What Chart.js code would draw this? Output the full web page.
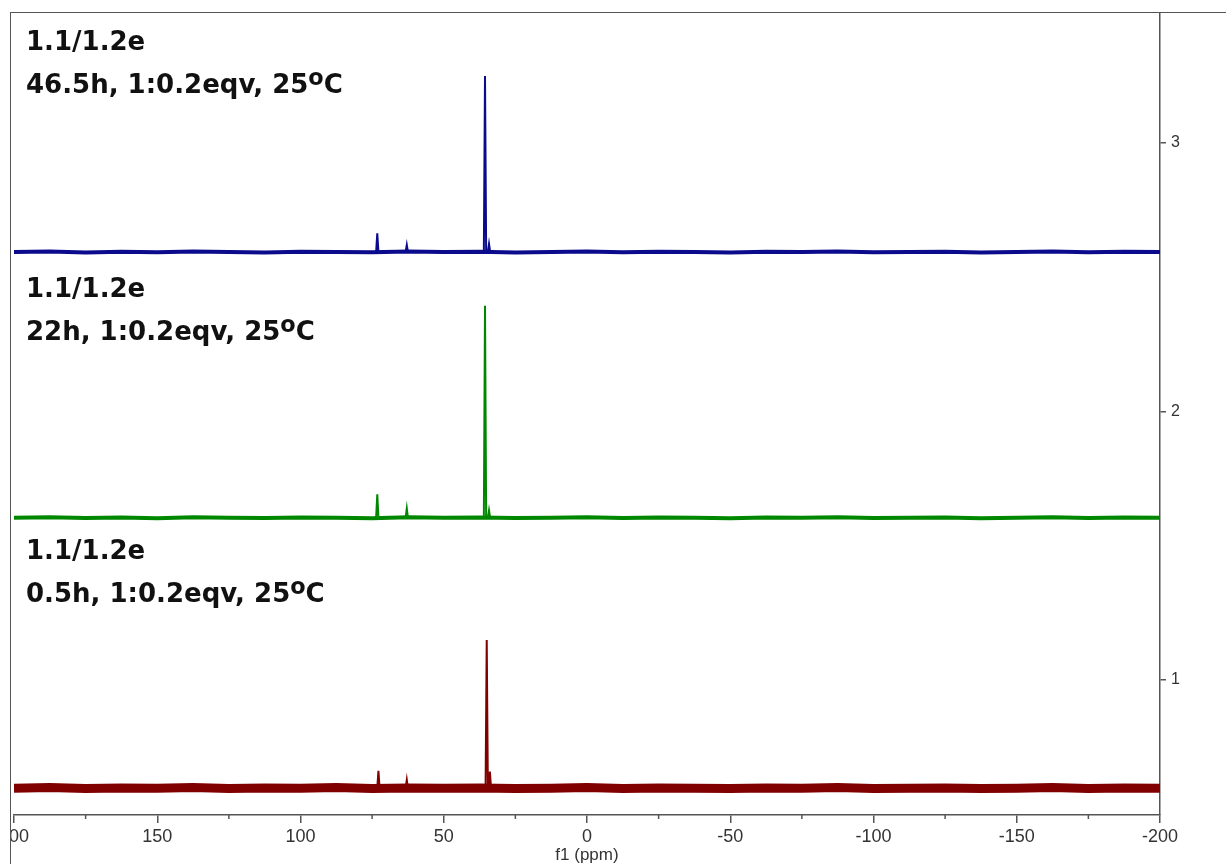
<!DOCTYPE html>
<html><head><meta charset="utf-8">
<script src="https://cdn.jsdelivr.net/npm/chart.js@4/dist/chart.umd.min.js"></script>
<style>
html,body{margin:0;padding:0;background:#fff;width:1226px;height:864px;overflow:hidden}
#frame{position:absolute;left:10px;top:12px;width:1215px;height:851px;border-left:1px solid #555;border-top:1px solid #555;overflow:hidden}
#cv{position:absolute;left:-61px;top:-16px;width:1276px;height:867px}
.lab{position:absolute;left:26px;font-family:'DejaVu Sans',sans-serif;font-weight:700;font-size:26px;line-height:43px;color:#111;white-space:nowrap}
.lab .sup{position:relative;top:-0.36em;font-size:0.86em}
</style></head>
<body>
<div id="frame"><div id="cv"><canvas id="c"></canvas></div></div>
<div class="lab" style="top:20px">1.1/1.2e<br>46.5h, 1:0.2eqv, 25<span class="sup">o</span>C</div>
<div class="lab" style="top:267px">1.1/1.2e<br>22h, 1:0.2eqv, 25<span class="sup">o</span>C</div>
<div class="lab" style="top:529px">1.1/1.2e<br>0.5h, 1:0.2eqv, 25<span class="sup">o</span>C</div>
<script>
// chemical shift grid for the baselines (ppm)
const basePpm = [200,187.5,175,162.5,150,137.5,125,112.5,100,87.5,75,62.5,50,37.5,25,12.5,0,-12.5,-25,-37.5,-50,-62.5,-75,-87.5,-100,-112.5,-125,-137.5,-150,-162.5,-175,-187.5,-200];
// baseline levels (stacked offsets)
const blueBase  = [2.594,2.596,2.592,2.595,2.593,2.596,2.594,2.592,2.595,2.594,2.593,2.596,2.594,2.595,2.592,2.594,2.596,2.593,2.595,2.594,2.592,2.595,2.594,2.596,2.593,2.594,2.595,2.592,2.594,2.596,2.593,2.595,2.594];
const greenBase = [1.604,1.606,1.603,1.605,1.602,1.606,1.604,1.603,1.605,1.604,1.602,1.606,1.604,1.605,1.603,1.604,1.606,1.603,1.605,1.604,1.602,1.605,1.604,1.606,1.603,1.604,1.605,1.602,1.604,1.606,1.603,1.605,1.604];
const redBase   = [0.597,0.599,0.596,0.598,0.597,0.599,0.596,0.598,0.597,0.599,0.596,0.598,0.597,0.598,0.596,0.597,0.599,0.596,0.598,0.597,0.596,0.598,0.597,0.599,0.596,0.597,0.598,0.596,0.597,0.599,0.596,0.598,0.597];
const blueLevel = 2.594, greenLevel = 1.604, redLevel = 0.597;
// peaks: positions (ppm) and heights
const bluePeakPpm  = [73.2, 62.9, 35.6, 34.2];
const bluePeakTop  = [2.664, 2.620, 3.250, 2.624];
const greenPeakPpm = [73.2, 62.9, 35.6, 34.2];
const greenPeakTop = [1.692, 1.639, 2.394, 1.632];
const redPeakPpm   = [72.8, 62.9, 35.0, 33.9];
const redPeakTop   = [0.662, 0.628, 1.149, 0.659];
const minorTicks = [175,125,75,25,-25,-75,-125,-175];

const BLUE='rgb(10,10,140)', GREEN='rgb(0,135,0)', RED='rgb(128,0,0)';

function baseData(vals){ return basePpm.map((x,i)=>({x, y: vals[i]})); }
function peakData(ppm, tops, level){
  const out=[];
  ppm.forEach((p,i)=>{
    out.push({x:p+0.4,y:level},{x:p,y:tops[i]},{x:p-0.4,y:level},{x:p-0.4,y:null});
  });
  return out;
}

const minorTickPlugin = {
  id:'minorTicks',
  afterDraw(chart){
    const s = chart.scales.x, ctx = chart.ctx;
    ctx.save(); ctx.strokeStyle='#555'; ctx.lineWidth=1.5;
    minorTicks.forEach(v=>{
      const px = s.getPixelForValue(v);
      ctx.beginPath(); ctx.moveTo(px, s.top); ctx.lineTo(px, s.top+4); ctx.stroke();
    });
    ctx.restore();
  }
};

new Chart(document.getElementById('c'), {
  type:'line',
  data:{datasets:[
    {data:baseData(blueBase), borderColor:BLUE, borderWidth:4},
    {data:peakData(bluePeakPpm, bluePeakTop, blueLevel), borderColor:BLUE, borderWidth:2},
    {data:baseData(greenBase), borderColor:GREEN, borderWidth:4},
    {data:peakData(greenPeakPpm, greenPeakTop, greenLevel), borderColor:GREEN, borderWidth:2},
    {data:baseData(redBase), borderColor:RED, borderWidth:9},
    {data:peakData(redPeakPpm, redPeakTop, redLevel), borderColor:RED, borderWidth:2}
  ]},
  options:{
    responsive:true, maintainAspectRatio:false, animation:false,
    parsing:true, spanGaps:false,
    elements:{point:{radius:0}, line:{tension:0}},
    layout:{padding:{left:64,right:26,top:15,bottom:0}},
    plugins:{legend:{display:false}, tooltip:{enabled:false}},
    scales:{
      x:{type:'linear', reverse:true, min:-200, max:200,
        border:{display:true,color:'#555',width:1.5},
        grid:{display:true,drawOnChartArea:false,drawTicks:true,tickLength:8,color:'#555',lineWidth:1.5},
        ticks:{stepSize:50,color:'#333',font:{family:'Liberation Sans',size:18},padding:3,maxRotation:0,autoSkip:false},
        title:{display:true,text:'f1 (ppm)',color:'#333',font:{family:'Liberation Sans',size:17},padding:{top:0,bottom:-2}},
        afterFit(s){ s.height = 49; }
      },
      y:{type:'linear', position:'right', min:0.497, max:3.488,
        border:{display:true,color:'#555',width:1.5},
        grid:{display:true,drawOnChartArea:false,drawTicks:true,tickLength:6,color:'#555',lineWidth:1.5},
        ticks:{stepSize:1,includeBounds:false,color:'#333',font:{family:'Liberation Sans',size:16},padding:5},
        afterFit(s){ s.width = 40; }
      }
    }
  },
  plugins:[minorTickPlugin]
});
</script>
</body></html>
